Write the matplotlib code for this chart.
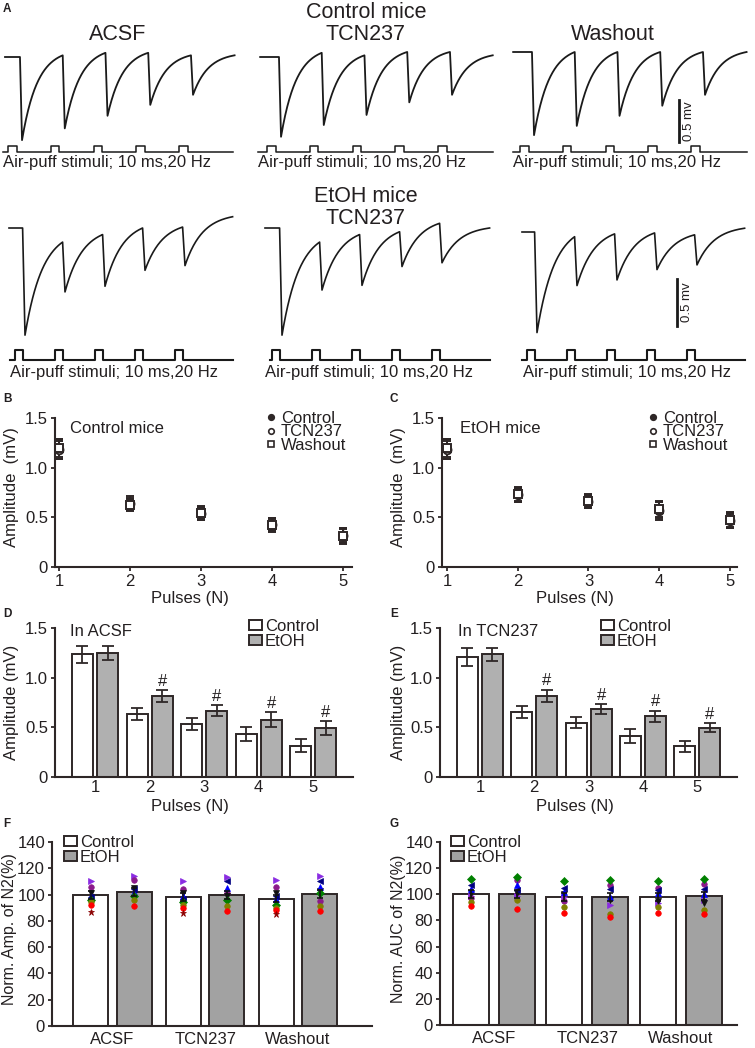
import numpy as np
import matplotlib
matplotlib.use('Agg')
import matplotlib.pyplot as plt
from matplotlib.patches import Patch
from matplotlib.lines import Line2D

plt.rcParams['font.family'] = ['Liberation Sans', 'DejaVu Sans']
plt.rcParams['font.size'] = 12
plt.rcParams['text.color'] = '#231f20'
plt.rcParams['axes.labelcolor'] = '#231f20'

# ---------------- data ----------------
# panel A traces: trough depth and recovered level (mV, relative to baseline)
ctrl_acsf_trough = [-0.99, -0.85, -0.70, -0.57, -0.45]
ctrl_acsf_level = [0.02, 0.05, 0.05, 0.02, 0.02]
ctrl_tcn_trough = [-0.95, -0.81, -0.69, -0.54, -0.45]
ctrl_tcn_level = [0.05, 0.02, 0.06, 0.06, 0.02]
ctrl_wash_trough = [-0.99, -0.88, -0.76, -0.64, -0.51]
ctrl_wash_level = [0.0, 0.0, 0.0, 0.0, 0.0]
etoh_acsf_trough = [-1.14, -0.68, -0.62, -0.45, -0.40]
etoh_acsf_level = [-0.15, -0.07, 0.0, 0.01, 0.12]
etoh_tcn_trough = [-1.14, -0.66, -0.61, -0.41, -0.37]
etoh_tcn_level = [-0.15, -0.07, -0.04, 0.05, 0.0]
etoh_wash_trough = [-1.07, -0.57, -0.51, -0.40, -0.35]
etoh_wash_level = [-0.05, -0.02, -0.01, -0.03, 0.04]
pulse_onsets = [0, 50, 100, 150, 200]   # ms, 20 Hz
pulse_width = 10                        # ms

# panels B, C
pulses = [1, 2, 3, 4, 5]
b_ctrl = [1.19, 0.64, 0.54, 0.42, 0.31]
b_ctrl_err = [0.10, 0.07, 0.07, 0.07, 0.08]
b_tcn = [1.18, 0.63, 0.53, 0.43, 0.32]
b_tcn_err = [0.09, 0.06, 0.06, 0.06, 0.07]
b_wash = [1.20, 0.62, 0.54, 0.42, 0.31]
b_wash_err = [0.09, 0.06, 0.06, 0.06, 0.07]
c_ctrl = [1.19, 0.73, 0.66, 0.56, 0.47]
c_ctrl_err = [0.10, 0.08, 0.07, 0.09, 0.08]
c_tcn = [1.18, 0.72, 0.65, 0.57, 0.46]
c_tcn_err = [0.09, 0.07, 0.06, 0.08, 0.07]
c_wash = [1.20, 0.73, 0.66, 0.58, 0.47]
c_wash_err = [0.09, 0.07, 0.06, 0.08, 0.07]

# panels D, E
d_ctrl = [1.235, 0.635, 0.53, 0.43, 0.315]
d_ctrl_err = [0.085, 0.06, 0.06, 0.07, 0.065]
d_etoh = [1.25, 0.815, 0.665, 0.577, 0.49]
d_etoh_err = [0.07, 0.06, 0.055, 0.075, 0.07]
e_ctrl = [1.21, 0.654, 0.545, 0.41, 0.31]
e_ctrl_err = [0.09, 0.065, 0.055, 0.07, 0.055]
e_etoh = [1.236, 0.82, 0.68, 0.61, 0.495]
e_etoh_err = [0.065, 0.06, 0.05, 0.055, 0.045]
sig_pulses = [2, 3, 4, 5]

# panels F, G
conditions = ['ACSF', 'TCN237', 'Washout']
f_ctrl = [100, 98, 97]
f_etoh = [102, 99.5, 100.5]
f_ctrl_err = [3, 3, 3]
f_etoh_err = [3, 3, 3]
g_ctrl = [100.5, 98, 98]
g_etoh = [100.5, 98, 99]
g_ctrl_err = [3, 3, 3]
g_etoh_err = [3, 3, 3]

cell_markers = ['>', 'o', 'v', '^', '<', 'D', 'o', 'o', '*']
cell_colors = ['#8a2be2', '#8b1a8b', '#111111', '#0000ff', '#000080',
               '#008000', '#808000', '#ff0000', '#8b0000']
# rows = cells, columns = ACSF-C, ACSF-E, TCN-C, TCN-E, Wash-C, Wash-E
f_cells = [
    [110, 114, 110, 113, 111, 114],
    [106, 111, 104, 101, 106, 95],
    [101, 105, 101, 99, 101, 103],
    [99, 102, 99, 105, 97, 106],
    [98, 104, 97, 110, 99, 110],
    [96, 99, 94, 96, 92, 101],
    [94, 95.5, 92, 91, 90, 91],
    [92, 91, 90, 87.5, 88, 87.5],
    [87, np.nan, 86, np.nan, 85, np.nan],
]
g_cells = [
    [99, 99, 98, 92, 93, 96],
    [97, 111, 94.5, 107, 105, 108],
    [101, 101, 100, 96, 95, 93],
    [104, 107, 102, 98, 101, 100],
    [107, 103, 105, 104, 103, 104],
    [112, 113, 110, 111, 110, 112],
    [94, 95.5, 90, 85, 90, 88],
    [91, 89, 86, 83, 86, 85],
    [np.nan] * 6,
]

# ---------------- figure ----------------
W, H = 755, 1048
fig = plt.figure(figsize=(W / 100, H / 100), dpi=100)
INK = '#2e2727'
GRAY1 = '#b0b0b0'
GRAY2 = '#a2a2a2'


def box(x0, y0, x1, y1):
    return [x0 / W, 1 - y1 / H, (x1 - x0) / W, (y1 - y0) / H]


def ftext(x, y, s, **kw):
    kw.setdefault('ha', 'center')
    kw.setdefault('va', 'center')
    fig.text(x / W, 1 - y / H, s, **kw)


def trace_curve(t0, t1, lat, fall, tau, troughs, levels):
    ts, vs = [t0], [0.0]
    cur = 0.0
    for i, p in enumerate(pulse_onsets):
        td = p + lat
        ts.append(td)
        vs.append(cur)
        tt = td + fall
        nxt = pulse_onsets[i + 1] + lat if i < 4 else t1
        tr = np.linspace(tt, nxt, 80)
        e = np.exp(-(nxt - tt) / tau)
        a = (levels[i] - troughs[i] * e) / (1 - e)
        ts.extend(tr)
        vs.extend(a + (troughs[i] - a) * np.exp(-(tr - tt) / tau))
        cur = levels[i]
    return np.array(ts), np.array(vs)


def stim_curve(s0, s1):
    ts, vs = [s0], [0]
    for p in pulse_onsets:
        ts += [p, p, p + pulse_width, p + pulse_width]
        vs += [0, 1, 1, 0]
    ts.append(s1)
    vs.append(0)
    return ts, vs


def trace_panel(ox, py, sx, sy, depth, trange, srange, stim_y, lat, fall, tau,
                troughs, levels, lw, slw):
    xa0, xa1 = ox - 20, ox + 245
    ya0, ya1 = py - 25, py + depth
    ax = fig.add_axes(box(xa0, ya0, xa1, ya1))
    ax.set_xlim((xa0 - ox) / sx, (xa1 - ox) / sx)
    ax.set_ylim((py - ya1) / sy, (py - ya0) / sy)
    ax.axis('off')
    t, v = trace_curve(trange[0], trange[1], lat, fall, tau, troughs, levels)
    ax.plot(t, v, color='#1a1a1a', lw=lw, solid_joinstyle='round')
    top, base = stim_y
    h = base - top
    sax = fig.add_axes(box(xa0, top - 5, xa1, base + 5))
    sax.set_xlim(ax.get_xlim())
    sax.set_ylim(-5 / h, 1 + 5 / h)
    sax.axis('off')
    st, sv = stim_curve(*srange)
    sax.plot(st, sv, color='#1a1a1a', lw=slw)
    return ax


# ---- panel A, control mice ----
r1 = dict(sx=0.855, sy=84, depth=110, stim_y=(146, 152), lat=14, fall=2.4,
          tau=18, lw=1.3, slw=1.1)
trace_panel(8, 57, trange=(-3.5, 265), srange=(-5.8, 263),
            troughs=ctrl_acsf_trough, levels=ctrl_acsf_level, **r1)
trace_panel(267, 57, trange=(-8, 264), srange=(-10.5, 264),
            troughs=ctrl_tcn_trough, levels=ctrl_tcn_level, **r1)
axw = trace_panel(520, 52, trange=(-8, 265), srange=(-8, 265),
                  troughs=ctrl_wash_trough, levels=ctrl_wash_level, **r1)
axw.plot([186, 186], [-1.07, -0.57], color='#1a1a1a', lw=2)
axw.text(197.5, -0.82, '0.5 mv', rotation=90, ha='center', va='center',
         fontsize=9.5)

# ---- panel A, EtOH mice ----
r2 = dict(sx=0.8, sy=94, depth=125, stim_y=(350, 360), lat=9.5, fall=3,
          tau=22, lw=1.2, slw=1.5)
trace_panel(15, 228, trange=(-7.5, 272), srange=(-6.25, 272),
            troughs=etoh_acsf_trough, levels=etoh_acsf_level, **r2)
trace_panel(272, 228, trange=(-8.75, 272), srange=(-2.5, 272),
            troughs=etoh_tcn_trough, levels=etoh_tcn_level, **r2)
axw2 = trace_panel(527, 232, trange=(-6.25, 272), srange=(-6.25, 272),
                   troughs=etoh_wash_trough, levels=etoh_wash_level, **r2)
axw2.plot([187.5, 187.5], [-1.0, -0.5], color='#1a1a1a', lw=2)
axw2.text(200, -0.75, '0.5 mv', rotation=90, ha='center', va='center',
          fontsize=9.5)

ftext(366, 12, 'Control mice', fontsize=15.5)
ftext(118, 35, 'ACSF', fontsize=15.5)
ftext(366, 35, 'TCN237', fontsize=15.5)
ftext(613, 35, 'Washout', fontsize=15.5)
ftext(366, 196, 'EtOH mice', fontsize=15.5)
ftext(366, 218, 'TCN237', fontsize=15.5)
for x in (3, 258, 513):
    ftext(x, 162, 'Air-puff stimuli; 10 ms,20 Hz', ha='left', fontsize=12)
for x in (10, 265, 523):
    ftext(x, 373, 'Air-puff stimuli; 10 ms,20 Hz', ha='left', fontsize=12)

# panel letters
for letter, x, y in [('A', 3, 9), ('B', 3, 399), ('C', 390, 399),
                     ('D', 3, 614), ('E', 390, 614), ('F', 3, 824),
                     ('G', 390, 824)]:
    ftext(x, y, letter, ha='left', fontweight='bold', fontsize=8.5)


def style(ax, xticks_len=0):
    for s in ('top', 'right'):
        ax.spines[s].set_visible(False)
    for s in ('left', 'bottom'):
        ax.spines[s].set_linewidth(1.5)
        ax.spines[s].set_color(INK)
    ax.tick_params(axis='y', direction='out', length=3, width=1.3, pad=2,
                   colors=INK, labelcolor='#231f20', labelsize=12)
    ax.tick_params(axis='x', direction='out', length=xticks_len, width=1.3,
                   pad=2, colors=INK, labelcolor='#231f20', labelsize=12)


# ---- panels B, C ----
def pulse_panel(rect, xlim, ctrl, ce, tcn, te, wash, we, title, tx, leg_xy):
    ax = fig.add_axes(box(*rect))
    style(ax, xticks_len=3)
    ax.set_xlim(*xlim)
    ax.set_ylim(0, 1.5)
    ax.set_yticks([0, 0.5, 1.0, 1.5], ['0', '0.5', '1.0', '1.5'])
    ax.set_xticks(pulses)
    kw = dict(color=INK, ms=5.5, mew=1.4, capsize=2.8, elinewidth=1.3,
              capthick=1.3, ls='none', clip_on=False)
    ax.errorbar(pulses, ctrl, yerr=ce, fmt='o', mfc=INK, **kw)
    ax.errorbar(pulses, tcn, yerr=te, fmt='o', mfc='white', **kw)
    ax.errorbar(pulses, wash, yerr=we, fmt='s', mfc='white', **kw)
    ftext(tx, 428, title, ha='left', fontsize=12)
    handles = [Line2D([], [], marker='o', ls='none', color=INK, mfc=INK,
                      ms=4, mew=1.2),
               Line2D([], [], marker='o', ls='none', color=INK, mfc='white',
                      ms=4, mew=1.2),
               Line2D([], [], marker='s', ls='none', color=INK, mfc='white',
                      ms=4, mew=1.2)]
    ax.legend(handles, ['Control', 'TCN237', 'Washout'], loc='upper left',
              bbox_to_anchor=(leg_xy[0] / W, 1 - leg_xy[1] / H),
              bbox_transform=fig.transFigure, frameon=False, borderpad=0,
              borderaxespad=0, handlelength=0.6, handletextpad=0.3,
              labelspacing=-0.1, fontsize=12)
    return ax


pulse_panel((55, 418, 352, 567), (0.944, 5.13), b_ctrl, b_ctrl_err, b_tcn,
            b_tcn_err, b_wash, b_wash_err, 'Control mice', 70, (266, 411))
pulse_panel((442, 418, 737, 567), (0.93, 5.10), c_ctrl, c_ctrl_err, c_tcn,
            c_tcn_err, c_wash, c_wash_err, 'EtOH mice', 460, (648, 411))


# ---- panels D, E ----
def bar_panel(rect, ctrl, ce, etoh, ee, title, tx, leg_xy):
    ax = fig.add_axes(box(*rect))
    style(ax)
    ax.set_xlim(0.266, 5.73)
    ax.set_ylim(0, 1.5)
    ax.set_yticks([0, 0.5, 1.0, 1.5], ['0', '0.5', '1.0', '1.5'])
    ax.set_xticks(pulses)
    x = np.array(pulses)
    ebk = dict(ecolor=INK, elinewidth=1.3, capsize=4, capthick=1.3)
    ax.bar(x - 0.23, ctrl, 0.385, yerr=ce, color='white', edgecolor=INK,
           linewidth=1.4, error_kw=ebk, label='Control')
    ax.bar(x + 0.23, etoh, 0.385, yerr=ee, color=GRAY1, edgecolor=INK,
           linewidth=1.4, error_kw=ebk, label='EtOH')
    for p in sig_pulses:
        i = pulses.index(p)
        ax.text(p + 0.23, etoh[i] + ee[i] + 0.015, '#', ha='center',
                va='bottom', fontsize=12)
    ftext(tx, 632, title, ha='left', fontsize=12)
    ax.legend(loc='upper left',
              bbox_to_anchor=(leg_xy[0] / W, 1 - leg_xy[1] / H),
              bbox_transform=fig.transFigure, frameon=False, borderpad=0,
              borderaxespad=0, handlelength=0.75, handleheight=0.6,
              handletextpad=0.2, labelspacing=0.0, fontsize=12)
    return ax


bar_panel((55, 628, 353, 777), d_ctrl, d_ctrl_err, d_etoh, d_etoh_err,
          'In ACSF', 70, (249, 619))
bar_panel((440, 628, 737, 777), e_ctrl, e_ctrl_err, e_etoh, e_etoh_err,
          'In TCN237', 458, (601, 619))


# ---- panels F, G ----
def norm_panel(rect, xlim, off, width, ctrl, ce, etoh, ee, cells, leg_xy):
    ax = fig.add_axes(box(*rect))
    style(ax)
    ax.set_xlim(*xlim)
    ax.set_ylim(0, 140)
    ax.set_yticks(range(0, 141, 20))
    x = np.arange(len(conditions))
    ax.set_xticks(x, conditions)
    ax.tick_params(axis='x', pad=4)
    ax.bar(x - off, ctrl, width, color='white', edgecolor=INK, linewidth=1.4,
           label='Control', zorder=1)
    ax.bar(x + off, etoh, width, color=GRAY2, edgecolor=INK, linewidth=1.4,
           label='EtOH', zorder=1)
    pos = np.ravel(np.column_stack([x - off, x + off]))
    for vals, m, c in zip(cells, cell_markers, cell_colors):
        ax.plot(pos, vals, ls='none', marker=m, color=c,
                ms=5 if m == '*' else 4, mew=0.5, zorder=3)
    ekw = dict(fmt='none', ecolor='#111111', elinewidth=1.2, capsize=2.5,
               capthick=1.2, zorder=4)
    ax.errorbar(x - off, ctrl, yerr=ce, **ekw)
    ax.errorbar(x + off, etoh, yerr=ee, **ekw)
    ax.legend(loc='upper left',
              bbox_to_anchor=(leg_xy[0] / W, 1 - leg_xy[1] / H),
              bbox_transform=fig.transFigure, frameon=False, borderpad=0,
              borderaxespad=0, handlelength=0.75, handleheight=0.6,
              handletextpad=0.2, labelspacing=0.0, fontsize=12)
    return ax


norm_panel((52, 842, 372, 1026), (-0.652, 2.80), 0.234, 0.377, f_ctrl,
           f_ctrl_err, f_etoh, f_etoh_err, f_cells, (64, 835))
norm_panel((440, 842, 737, 1025), (-0.578, 2.60), 0.246, 0.385, g_ctrl,
           g_ctrl_err, g_etoh, g_etoh_err, g_cells, (451, 835))

# axis labels
ftext(12, 487, 'Amplitude  (mV)', rotation=90, fontsize=12)
ftext(398, 487, 'Amplitude  (mV)', rotation=90, fontsize=12)
ftext(12, 702, 'Amplitude (mV)', rotation=90, fontsize=12)
ftext(398, 702, 'Amplitude (mV)', rotation=90, fontsize=12)
ftext(10, 929, 'Norm. Amp. of N2(%)', rotation=90, fontsize=11.5)
ftext(399, 929, 'Norm. AUC of N2(%)', rotation=90, fontsize=11.5)
ftext(190, 598, 'Pulses (N)', fontsize=12)
ftext(575, 598, 'Pulses (N)', fontsize=12)
ftext(190, 806, 'Pulses (N)', fontsize=12)
ftext(575, 806, 'Pulses (N)', fontsize=12)

fig.savefig('out.png', dpi=100)
